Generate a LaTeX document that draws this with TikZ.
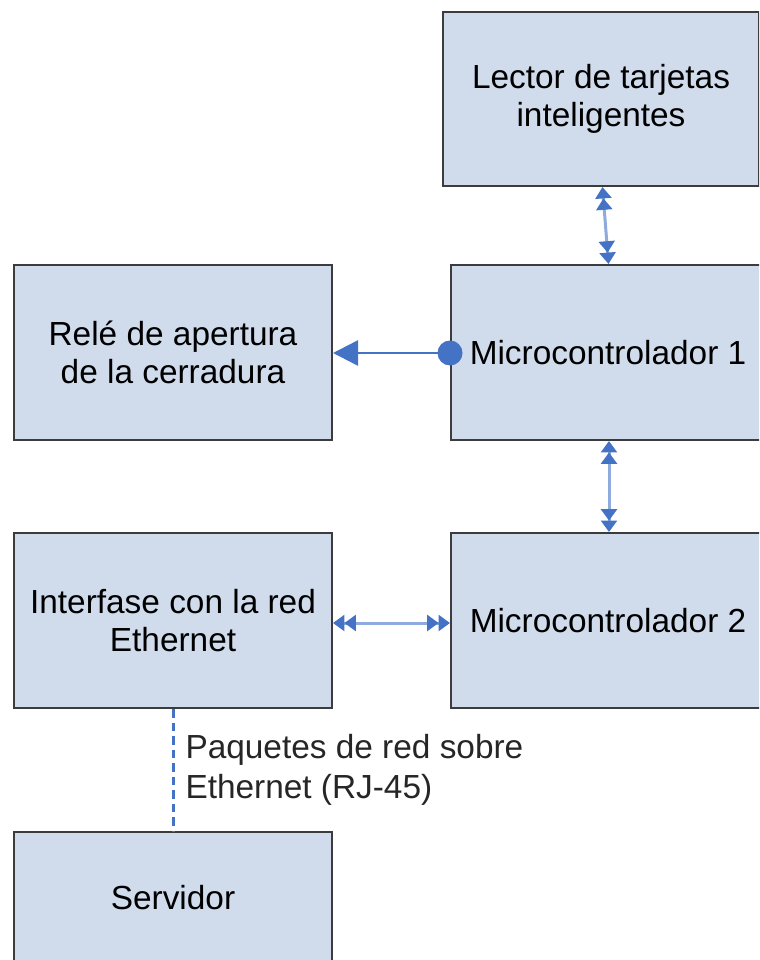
\documentclass[tikz,border=0pt]{standalone}
\usepackage{fontspec}
\setmainfont{Liberation Sans}
\usetikzlibrary{arrows.meta}

\definecolor{relleno}{HTML}{D0DCEC}
\definecolor{borde}{HTML}{3C3C3C}
\definecolor{azul}{HTML}{4472C4}
\definecolor{azulclaro}{HTML}{8FAADC}

\tikzset{
  bloque/.style={draw=borde, line width=0.04cm, fill=relleno, align=center,
    font=\fontsize{19}{21.6}\selectfont, inner sep=0pt},
  doble/.style={azulclaro, line width=0.06cm,
    {Triangle[length=6.5pt,width=9pt,color=azul] Triangle[length=6.5pt,width=9pt,color=azul]}-{Triangle[length=6.5pt,width=9pt,color=azul] Triangle[length=6.5pt,width=9pt,color=azul]}},
  salida/.style={azul, line width=0.05cm, -{Triangle[length=0.5cm,width=0.5cm]}},
  red/.style={azul, line width=0.06cm, dash pattern=on 0.17cm off 0.1cm},
  etiqueta/.style={black!85, align=left, font=\fontsize{19}{22.8}\selectfont, inner sep=0.22cm}
}

\begin{document}
\begin{tikzpicture}
          \useasboundingbox (0,0) rectangle (15.18,-19.2);
          \clip (0,0) rectangle (15.18,-19.2);

          % bloques
          \node[bloque, minimum width=6.32cm, minimum height=3.48cm] (lector) at (12.02,-1.98) {Lector de tarjetas\\inteligentes};
          \node[bloque, minimum width=6.5cm, minimum height=3.5cm] (micro1) at (12.27,-7.05) {\hspace*{-0.22cm}Microcontrolador 1};
          \node[bloque, minimum width=6.36cm, minimum height=3.5cm] (rele) at (3.46,-7.05) {Relé de apertura\\de la cerradura};
          \node[bloque, minimum width=6.36cm, minimum height=3.5cm] (interfase) at (3.46,-12.41) {Interfase con la red\\Ethernet};
          \node[bloque, minimum width=6.5cm, minimum height=3.5cm] (micro2) at (12.27,-12.41) {\hspace*{-0.22cm}Microcontrolador 2};
          \node[bloque, minimum width=6.36cm, minimum height=2.64cm] (servidor) at (3.46,-17.96) {Servidor};

          % conexiones
          \draw[doble] ([xshift=0.03cm]lector.south) -- ([xshift=-0.1cm]micro1.north);
          \draw[doble] ([xshift=-0.09cm]micro1.south) -- ([xshift=-0.09cm]micro2.north);
          \draw[doble] ([yshift=-0.05cm]interfase.east) -- ([yshift=-0.05cm]micro2.west);
          \draw[salida] ([yshift=-0.01cm]micro1.west) -- ([yshift=-0.01cm]rele.east);
          \fill[azul] ([yshift=-0.01cm]micro1.west) circle (0.25);
          \draw[red] (interfase.south) -- node[right, etiqueta] {Paquetes de red sobre\\Ethernet (RJ-45)} (servidor.north);
        \end{tikzpicture}
\end{document}
